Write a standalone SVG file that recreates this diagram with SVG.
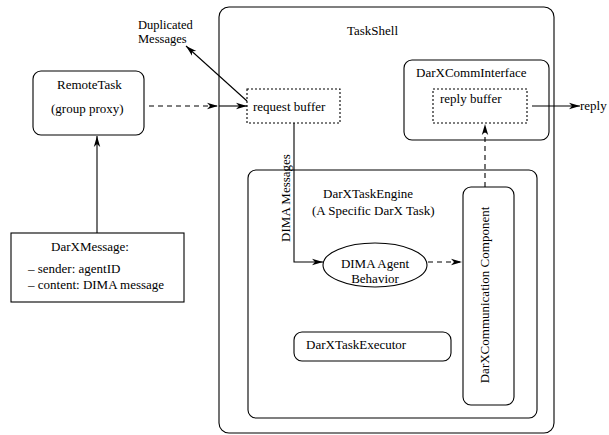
<svg xmlns="http://www.w3.org/2000/svg" width="609" height="435" viewBox="0 0 609 435" font-family="'Liberation Serif', 'DejaVu Serif', serif">
  <defs>
    <marker id="arrow" markerWidth="12" markerHeight="8" refX="11" refY="4" orient="auto" markerUnits="userSpaceOnUse">
      <path d="M0,0.8 L11,4 L0,7.2 L3,4 Z" fill="#000"/>
    </marker>
    <style>
      text { font-family: "Liberation Serif", "DejaVu Serif", serif; font-size: 13px; fill: #000; }
      .small { font-size: 12.5px; }
      .box { fill: none; stroke: #000; stroke-width: 1.1; }
      .dotted { fill: none; stroke: #000; stroke-width: 1.1; stroke-dasharray: 2 2; }
      .line { fill: none; stroke: #000; stroke-width: 1.1; }
      .dash { fill: none; stroke: #000; stroke-width: 1.1; stroke-dasharray: 5 4; }
    </style>
  </defs>
  <rect width="609" height="435" fill="#fff"/>

  <g id="taskshell">
    <rect class="box" x="219" y="7" width="335" height="426" rx="10" stroke="#333"/>
    <text x="347" y="35">TaskShell</text>
  </g>

  <g id="remotetask">
    <rect class="box" x="33" y="71" width="111" height="64" rx="8"/>
    <text x="57" y="89">RemoteTask</text>
    <text x="51" y="113">(group proxy)</text>
  </g>

  <g id="darxmessage">
    <rect class="box" x="11" y="233" width="173" height="69"/>
    <text x="51" y="251">DarXMessage:</text>
    <text x="28" y="273">– sender: agentID</text>
    <text x="28" y="289">– content: DIMA message</text>
  </g>

  <g id="duplicated">
    <text class="small" x="138" y="29">Duplicated</text>
    <text class="small" x="138" y="43">Messages</text>
  </g>

  <g id="requestbuffer">
    <rect class="dotted" x="247" y="89" width="93" height="34"/>
    <text x="253" y="111">request buffer</text>
  </g>

  <g id="commintf">
    <rect class="box" x="404" y="60" width="145" height="80" rx="8"/>
    <text x="416" y="77">DarXCommInterface</text>
  </g>

  <g id="replybuffer">
    <rect class="dotted" x="433" y="89" width="94" height="34"/>
    <text x="440" y="103">reply buffer</text>
  </g>

  <g id="reply">
    <text x="580" y="110">reply</text>
  </g>

  <g id="taskengine">
    <rect class="box" x="248" y="170" width="289" height="248" rx="8"/>
    <text x="323" y="198">DarXTaskEngine</text>
    <text x="312" y="215">(A Specific DarX Task)</text>
  </g>

  <g id="agentbehavior">
    <ellipse class="box" cx="375" cy="265" rx="52" ry="22"/>
    <text x="375" y="268" text-anchor="middle">DIMA Agent</text>
    <text x="375" y="283" text-anchor="middle">Behavior</text>
  </g>

  <g id="commcomponent">
    <rect class="box" x="463" y="187" width="51" height="218" rx="8"/>
    <text transform="translate(489,295) rotate(-90)" text-anchor="middle">DarXCommunication Component</text>
  </g>

  <g id="taskexecutor">
    <rect class="box" x="294" y="332" width="157" height="29" rx="8"/>
    <text x="306" y="349">DarXTaskExecutor</text>
  </g>

  <g id="connectors">
    <line class="dash" x1="149" y1="106" x2="218" y2="106" marker-end="url(#arrow)"/>
    <line class="line" x1="219" y1="106" x2="247" y2="106" marker-end="url(#arrow)"/>
    <line class="line" x1="247" y1="101" x2="186" y2="46" marker-end="url(#arrow)"/>
    <line class="line" x1="97" y1="233" x2="97" y2="136" marker-end="url(#arrow)"/>
    <polyline class="line" points="294,123 294,262 323,262" marker-end="url(#arrow)"/>
    <text transform="translate(290,198) rotate(-90)" text-anchor="middle">DIMA Messages</text>
    <line class="dash" x1="428" y1="262" x2="462" y2="262" marker-end="url(#arrow)"/>
    <line class="dash" x1="485" y1="187" x2="485" y2="124" marker-end="url(#arrow)"/>
    <line class="line" x1="532" y1="106" x2="580" y2="106" marker-end="url(#arrow)"/>
  </g>
</svg>
